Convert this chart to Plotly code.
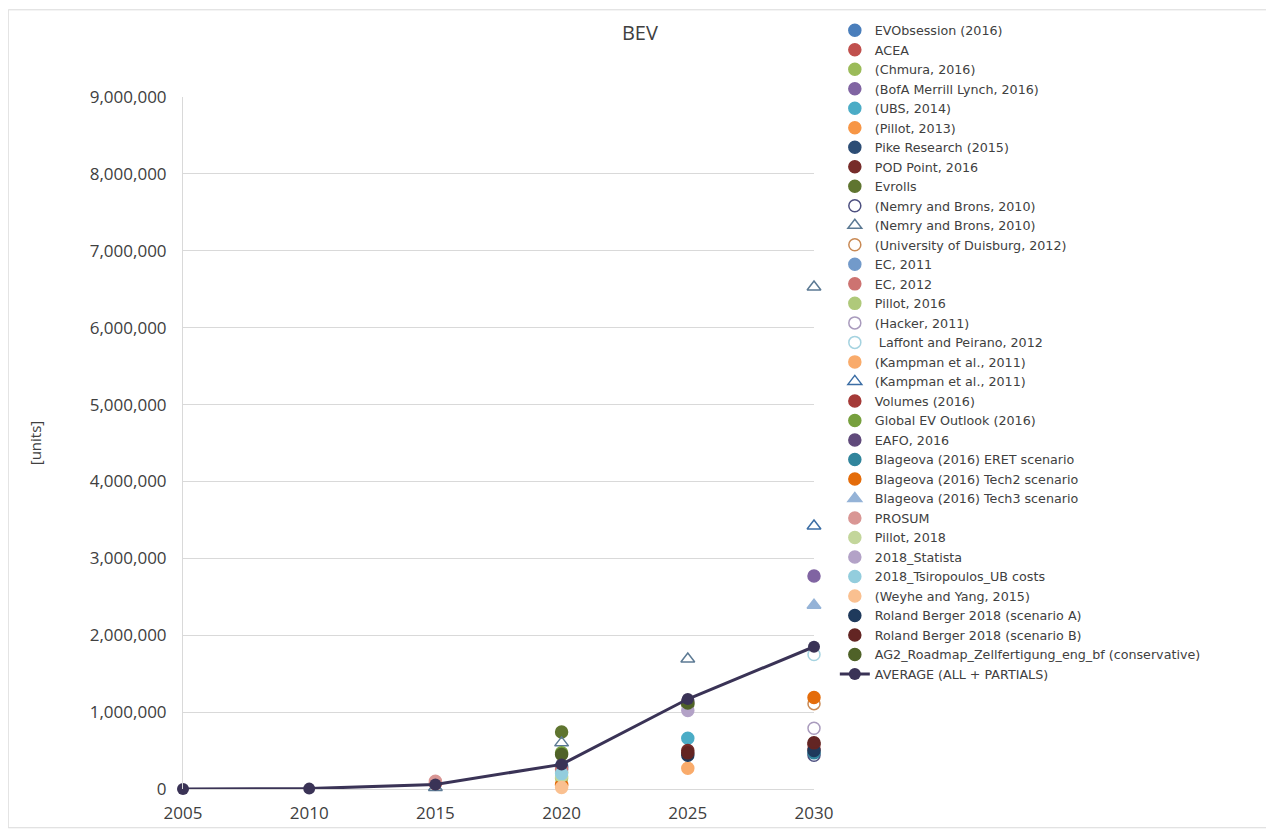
import plotly.graph_objects as go

years = [2005, 2010, 2015, 2020, 2025, 2030]

# series values per year (None = no estimate for that year)
ev_obsession = [None, None, None, 300000, None, None]
acea = [None, None, 70000, None, None, None]
chmura = [None, None, None, 220000, None, None]
bofa = [None, None, None, None, None, 2770000]
ubs = [None, None, None, None, 660000, None]
pillot_2013 = [None, None, None, 60000, None, None]
pike = [None, None, None, 280000, None, None]
pod_point = [None, None, None, None, 500000, 580000]
evrolls = [None, None, None, 740000, 1100000, None]
nemry_circle = [None, None, None, None, None, 440000]
nemry_tri = [None, None, 20000, 600000, 1690000, 6530000]
duisburg = [None, None, None, None, None, 1110000]
ec_2011 = [None, None, None, 250000, None, None]
ec_2012 = [None, None, None, 260000, None, None]
pillot_2016 = [None, None, None, 140000, None, None]
hacker = [None, None, None, None, None, 790000]
laffont = [None, None, None, None, None, 1750000]
kampman_circle = [None, None, None, None, 270000, None]
kampman_tri = [None, None, None, None, None, 3420000]
volumes = [None, None, None, None, None, 520000]
global_ev = [None, None, None, 470000, None, None]
eafo = [None, None, None, None, 1140000, None]
eret = [None, None, None, None, None, 470000]
tech2 = [None, None, None, 50000, None, 1190000]
tech3 = [None, None, None, None, None, 2390000]
prosum = [None, None, 100000, None, None, None]
pillot_2018 = [None, None, None, 170000, None, None]
statista = [None, None, None, None, 1020000, None]
tsiropoulos = [None, None, None, 200000, None, None]
weyhe = [None, None, None, 20000, None, None]
rb_a = [None, None, None, None, 440000, 500000]
rb_b = [None, None, None, None, 470000, 600000]
ag2 = [None, None, None, 450000, 1120000, None]
average = [0, 5000, 60000, 320000, 1170000, 1850000]

y_ticks = list(range(0, 9000001, 1000000))

series = [
    ("EVObsession (2016)", ev_obsession, "circle", "#4a7ebb"),
    ("ACEA", acea, "circle", "#c0504d"),
    ("(Chmura, 2016)", chmura, "circle", "#9bbb59"),
    ("(BofA Merrill Lynch, 2016)", bofa, "circle", "#8064a2"),
    ("(UBS, 2014)", ubs, "circle", "#4bacc6"),
    ("(Pillot, 2013)", pillot_2013, "circle", "#f79646"),
    ("Pike Research (2015)", pike, "circle", "#2c4d75"),
    ("POD Point, 2016", pod_point, "circle", "#772c2a"),
    ("Evrolls", evrolls, "circle", "#5f7530"),
    ("(Nemry and Brons, 2010)", nemry_circle, "circle-open", "#4d5080"),
    ("(Nemry and Brons, 2010)", nemry_tri, "triangle-up-open", "#5c7a94"),
    ("(University of Duisburg, 2012)", duisburg, "circle-open", "#c98a55"),
    ("EC, 2011", ec_2011, "circle", "#729aca"),
    ("EC, 2012", ec_2012, "circle", "#cd7371"),
    ("Pillot, 2016", pillot_2016, "circle", "#afc97a"),
    ("(Hacker, 2011)", hacker, "circle-open", "#a99bbd"),
    (" Laffont and Peirano, 2012", laffont, "circle-open", "#a5d3e0"),
    ("(Kampman et al., 2011)", kampman_circle, "circle", "#f9ab6b"),
    ("(Kampman et al., 2011)", kampman_tri, "triangle-up-open", "#3c6ea5"),
    ("Volumes (2016)", volumes, "circle", "#a53a38"),
    ("Global EV Outlook (2016)", global_ev, "circle", "#77a03e"),
    ("EAFO, 2016", eafo, "circle", "#604a7b"),
    ("Blageova (2016) ERET scenario", eret, "circle", "#31859c"),
    ("Blageova (2016) Tech2 scenario", tech2, "circle", "#e46c0a"),
    ("Blageova (2016) Tech3 scenario", tech3, "triangle-up", "#95b3d7"),
    ("PROSUM", prosum, "circle", "#d99694"),
    ("Pillot, 2018", pillot_2018, "circle", "#c3d69b"),
    ("2018_Statista", statista, "circle", "#b3a2c7"),
    ("2018_Tsiropoulos_UB costs", tsiropoulos, "circle", "#93cddd"),
    ("(Weyhe and Yang, 2015)", weyhe, "circle", "#fac090"),
    ("Roland Berger 2018 (scenario A)", rb_a, "circle", "#1f3a5c"),
    ("Roland Berger 2018 (scenario B)", rb_b, "circle", "#632523"),
    ("AG2_Roadmap_Zellfertigung_eng_bf (conservative)", ag2, "circle", "#4f6228"),
]

fig = go.Figure()
for name, vals, sym, col in series:
    fig.add_trace(go.Scatter(
        x=years, y=vals, name=name, mode="markers", cliponaxis=False,
        marker=dict(symbol=sym, size=12, color=col,
                    line=dict(color=col, width=1.5)),
    ))

fig.add_trace(go.Scatter(
    x=years, y=average, name="AVERAGE (ALL + PARTIALS)", mode="lines+markers",
    cliponaxis=False,
    line=dict(color="#3a3356", width=3),
    marker=dict(symbol="circle", size=12, color="#3a3356"),
))

# light outer frame like the source image
fig.add_shape(type="rect", xref="paper", yref="paper",
              x0=-0.277, x1=1.726, y0=-0.056, y1=1.126,
              line=dict(color="#d9d9d9", width=1), layer="below")

fig.update_layout(
    width=1274, height=830,
    margin=dict(l=175, r=468, t=89, b=49, autoexpand=False),
    paper_bgcolor="white", plot_bgcolor="white",
    font=dict(family="Open Sans", color="#595959", size=17),
    title=dict(text="BEV", x=0.496, xref="container", y=0.97, yref="container",
               xanchor="center", yanchor="middle",
               font=dict(size=20, color="#404040")),
    showlegend=True,
    legend=dict(x=0.649, xref="container", y=0.991, yref="container",
                xanchor="left", yanchor="top", maxheight=825,
                font=dict(family="DejaVu Sans", size=12.7, color="#404040"),
                tracegroupgap=0, bgcolor="rgba(0,0,0,0)"),
    xaxis=dict(range=[2005, 2030], tickvals=years, showgrid=False,
               zeroline=False, showline=False, ticks="",
               ticklabelstandoff=12,
               tickfont=dict(size=17, color="#404040")),
    yaxis=dict(range=[0, 9000000], tickvals=y_ticks, tickformat=",d",
               showgrid=True, gridcolor="#d9d9d9", gridwidth=1,
               zeroline=True, zerolinecolor="#d9d9d9", zerolinewidth=1,
               showline=True, linecolor="#d9d9d9", linewidth=1, ticks="",
               ticklabelstandoff=12,
               tickfont=dict(size=17, color="#404040"),
               title=dict(text="[units]", standoff=44,
                          font=dict(size=15, color="#404040"))),
)

fig.write_html("out.html")
